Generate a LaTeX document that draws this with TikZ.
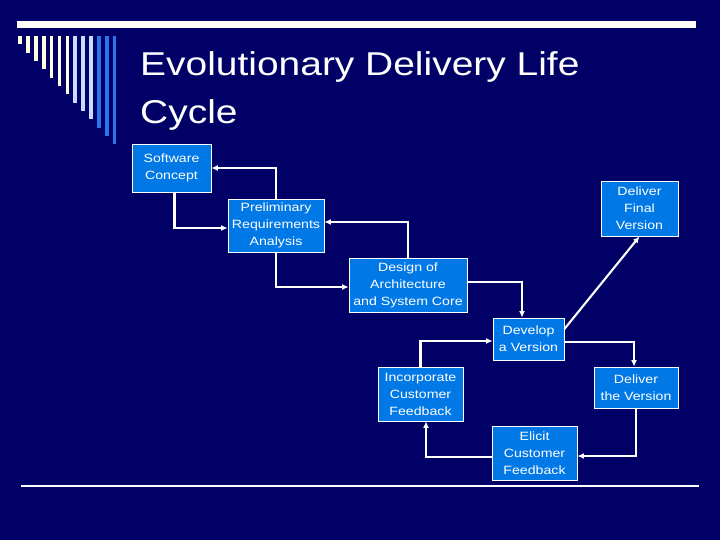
\documentclass[tikz,border=0pt]{standalone}
\usepackage{fontspec}
\setmainfont{Liberation Sans}
\newfontfamily\slidefont[FakeStretch=1.18]{Liberation Sans}
\usetikzlibrary{arrows.meta}

\definecolor{slidebg}{RGB}{0,0,102}
\definecolor{boxblue}{RGB}{0,120,230}
\definecolor{barcream}{RGB}{255,255,221}
\definecolor{barlight}{RGB}{200,220,255}
\definecolor{barblue}{RGB}{40,120,235}

\tikzset{
  stage/.style={draw=white, line width=0.8pt, fill=boxblue, text=white,
    align=center, inner sep=0pt, font=\slidefont\fontsize{12}{17}\selectfont},
  flow/.style={draw=white, line width=2.1pt, -{Latex[length=6.5pt,width=6pt]}},
  heading/.style={anchor=base west, inner sep=0pt, text=white,
    font=\slidefont\fontsize{33}{49}\selectfont}
}

\begin{document}
\begin{tikzpicture}[x=1pt,y=-1pt]
        \fill[slidebg] (0,0) rectangle (720,540);
        \useasboundingbox (0,0) rectangle (720,540);

        % rules and bars
        \fill[white] (17,21) rectangle (696,28);
        \fill[white] (21,484.8) rectangle (699,486.8);
        \foreach \i/\c in {0/barcream,1/barcream,2/barcream,3/barcream,4/barcream,
            5/barcream,6/barcream,7/barlight,8/barlight,9/barlight,10/barblue,
            11/barblue,12/barblue}
            \fill[\c] ({18.3+7.87*\i},36) rectangle ({22+7.87*\i},{44.3+8.33*\i});

        \node[heading] (title1) at (140,75.5) {Evolutionary Delivery Life};
        \node[heading] (title2) at (140,124) {Cycle};

        % stages
        \node[stage, minimum width=79pt, minimum height=48pt] (concept) at (171.5,168) {Software\\Concept};
        \node[stage, minimum width=96pt, minimum height=53pt] (prelim) at (276,225.5) {Preliminary\\Requirements\\Analysis};
        \node[stage, minimum width=77pt, minimum height=55pt] (final) at (639.5,208.5) {Deliver\\Final\\Version};
        \node[stage, minimum width=118pt, minimum height=54pt] (design) at (408,285) {Design of\\Architecture\\and System Core};
        \node[stage, minimum width=71pt, minimum height=42pt] (develop) at (528.5,339) {Develop\\a Version};
        \node[stage, minimum width=85pt, minimum height=54pt] (incorp) at (420.5,394) {Incorporate\\Customer\\Feedback};
        \node[stage, minimum width=84pt, minimum height=41pt] (deliver) at (636,387.5) {Deliver\\the Version};
        \node[stage, minimum width=85pt, minimum height=54pt] (elicit) at (534.5,453) {Elicit\\Customer\\Feedback};

        % flows
        \draw[flow] ([xshift=3pt]concept.south) |- ([yshift=-2.5pt]prelim.west);
        \draw[flow] (prelim.north) |- (concept.east);
        \draw[flow] (design.north) |- ([yshift=3.5pt]prelim.east);
        \draw[flow] (prelim.south) |- ([yshift=-2pt]design.west);
        \draw[flow] ([yshift=3pt]design.east) -| ([xshift=-6.5pt]develop.north);
        \draw[flow] (incorp.north) |- ([yshift=-2pt]develop.west);
        \draw[flow] ([yshift=-3pt]develop.east) -| ([xshift=-2pt]deliver.north);
        \draw[flow] (deliver.south) |- ([yshift=-3pt]elicit.east);
        \draw[flow] ([yshift=-4pt]elicit.west) -| ([xshift=5.5pt]incorp.south);
        \draw[flow] ([yshift=10pt]develop.east) -- (final.south);
\end{tikzpicture}
\end{document}
